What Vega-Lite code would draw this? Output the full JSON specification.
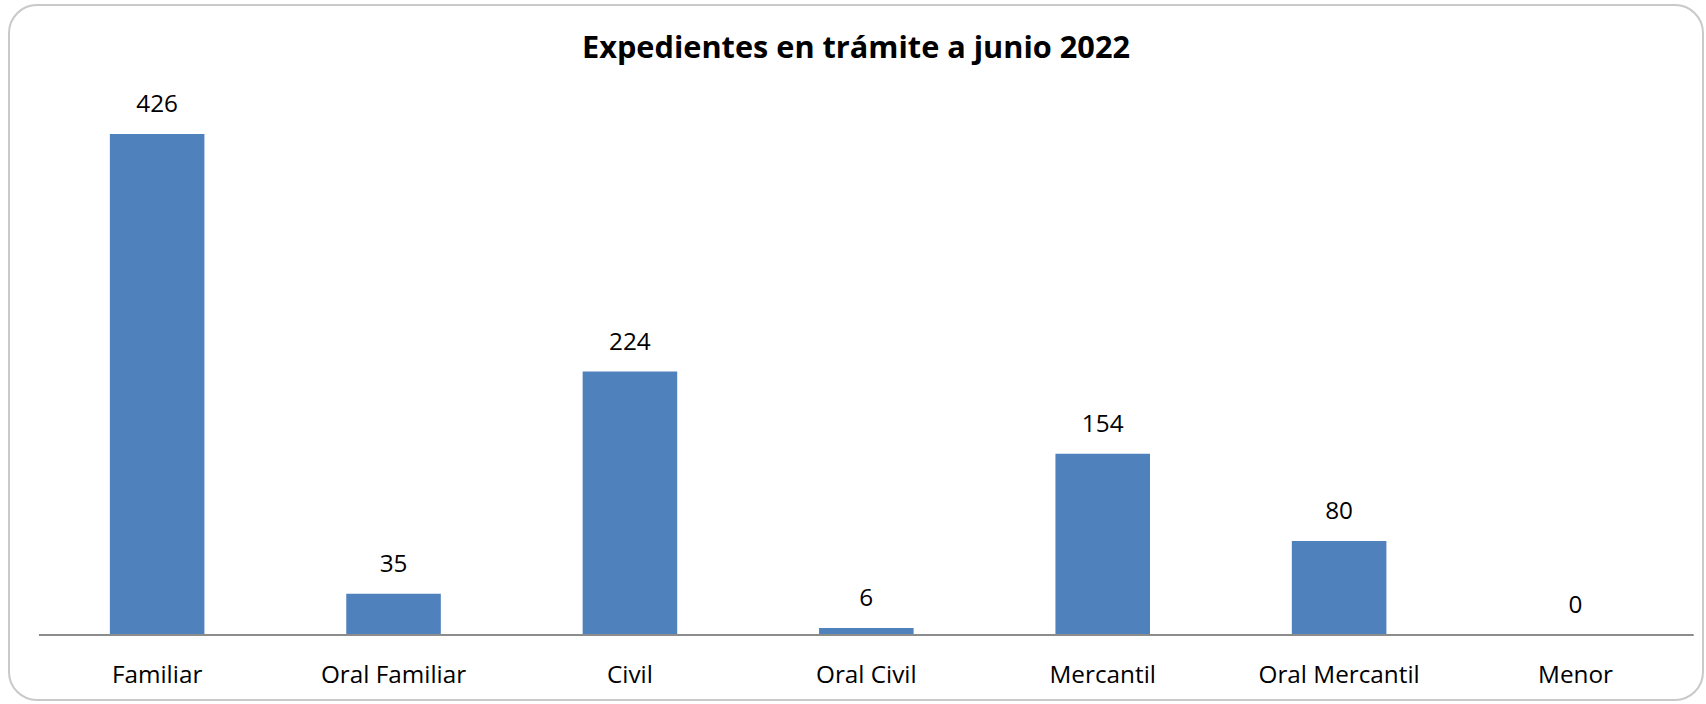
{
  "$schema": "https://vega.github.io/schema/vega-lite/v6.json",
  "autosize": {"type": "none"},
  "padding": {"left": 9, "top": 5, "right": 3, "bottom": 4},
  "width": 1694,
  "height": 695,
  "background": "white",
  "config": {
    "view": {"stroke": "#c9c9c9", "strokeWidth": 2, "cornerRadius": 28},
    "font": "Open Sans"
  },
  "title": {
    "text": "Expedientes en trámite a junio 2022",
    "font": "Open Sans",
    "fontSize": 30.7,
    "fontWeight": "bold",
    "color": "#000000",
    "baseline": "alphabetic",
    "anchor": "middle",
    "offset": -84
  },
  "data": {
    "values": [
      {"materia": "Familiar", "expedientes": 426},
      {"materia": "Oral Familiar", "expedientes": 35},
      {"materia": "Civil", "expedientes": 224},
      {"materia": "Oral Civil", "expedientes": 6},
      {"materia": "Mercantil", "expedientes": 154},
      {"materia": "Oral Mercantil", "expedientes": 80},
      {"materia": "Menor", "expedientes": 0}
    ]
  },
  "encoding": {
    "x": {
      "field": "materia",
      "type": "nominal",
      "sort": null,
      "scale": {"paddingInner": 0.6, "paddingOuter": 0.383, "align": 0.557},
      "axis": {
        "title": null,
        "orient": "bottom",
        "offset": -65,
        "domain": false,
        "ticks": false,
        "tickSize": 0,
        "labelAngle": 0,
        "labelFont": "Open Sans",
        "labelFontSize": 24.3,
        "labelColor": "#000000",
        "labelBaseline": "alphabetic",
        "labelPadding": 47
      }
    }
  },
  "layer": [
    {
      "mark": {"type": "bar", "color": "#4f81bd"},
      "encoding": {
        "y": {
          "field": "expedientes",
          "type": "quantitative",
          "scale": {"domain": [-55.3, 535.7], "nice": false, "zero": false},
          "axis": null
        }
      }
    },
    {
      "mark": {"type": "text", "baseline": "alphabetic", "dy": -22, "fontSize": 24.3, "font": "Open Sans", "color": "#000000"},
      "encoding": {
        "y": {"field": "expedientes", "type": "quantitative"},
        "text": {"field": "expedientes", "type": "quantitative"}
      }
    },
    {
      "data": {"values": [{"base": 0}]},
      "mark": {"type": "rule", "color": "#8c8c8c", "strokeWidth": 2},
      "encoding": {
        "x": {"datum": "Familiar", "bandPosition": -0.75},
        "x2": {"datum": "Menor", "bandPosition": 1.75},
        "y": {"field": "base", "type": "quantitative"}
      }
    }
  ]
}
